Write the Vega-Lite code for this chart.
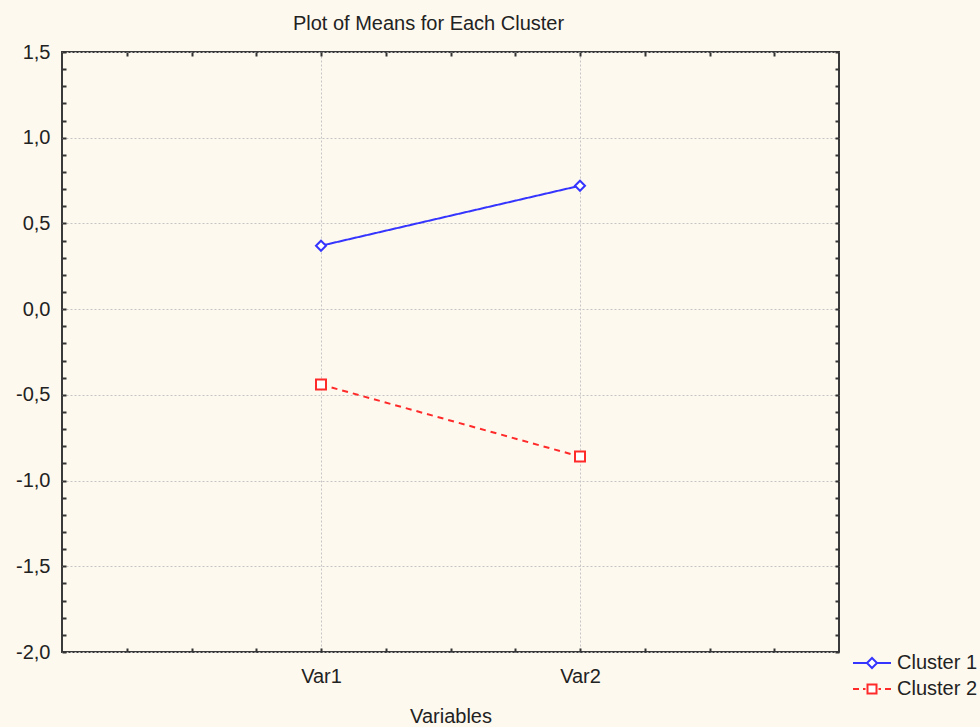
{
  "$schema": "https://vega.github.io/schema/vega-lite/v6.json",
  "autosize": {"type": "none"},
  "padding": {"left": 62, "top": 52, "right": 141, "bottom": 75},
  "width": 777,
  "height": 600,
  "background": "#fef9ee",
  "title": {
    "text": "Plot of Means for Each Cluster",
    "font": "Liberation Sans",
    "fontSize": 20,
    "fontWeight": "normal",
    "color": "#222222",
    "anchor": "middle",
    "dx": -22,
    "baseline": "alphabetic",
    "offset": -8
  },
  "data": {
    "values": [
      {"Variable": "Var1", "Cluster": "Cluster 1", "Mean": 0.37},
      {"Variable": "Var2", "Cluster": "Cluster 1", "Mean": 0.72},
      {"Variable": "Var1", "Cluster": "Cluster 2", "Mean": -0.44},
      {"Variable": "Var2", "Cluster": "Cluster 2", "Mean": -0.86}
    ]
  },
  "transform": [
    {"calculate": "indexof(['Var1','Var2'], datum.Variable) + 1", "as": "VarIndex"}
  ],
  "layer": [
    {
      "mark": {"type": "line", "strokeWidth": 2},
      "encoding": {
        "x": {
          "field": "VarIndex",
          "type": "quantitative",
          "scale": {"domain": [0, 3], "nice": false, "zero": false},
          "axis": {
            "orient": "bottom",
            "values": [0.25, 0.5, 0.75, 1, 1.25, 1.5, 1.75, 2, 2.25, 2.5, 2.75],
            "labelExpr": "datum.value == 1 ? 'Var1' : datum.value == 2 ? 'Var2' : ''",
            "labelOverlap": false,
            "labelFlush": false,
            "labelBound": false,
            "labelFont": "Liberation Sans",
            "labelFontSize": 20,
            "labelColor": "#222222",
            "labelPadding": 18,
            "grid": true,
            "gridColor": "#c4c4c4",
            "gridDash": [2, 2],
            "gridWidth": 1,
            "gridOpacity": {"condition": {"test": "datum.value == 1 || datum.value == 2", "value": 1}, "value": 0},
            "domain": false,
            "tickSize": -4,
            "tickWidth": 2,
            "tickColor": "#333333",
            "title": "Variables",
            "titleFont": "Liberation Sans",
            "titleFontSize": 20,
            "titleFontWeight": "normal",
            "titleColor": "#222222",
            "titlePadding": 20
          }
        },
        "y": {
          "field": "Mean",
          "type": "quantitative",
          "scale": {"domain": [-2, 1.5], "nice": false, "zero": false},
          "axis": {
            "orient": "left",
            "values": [-2, -1.9, -1.8, -1.7, -1.6, -1.5, -1.4, -1.3, -1.2, -1.1, -1, -0.9, -0.8, -0.7, -0.6, -0.5, -0.4, -0.3, -0.2, -0.1, 0, 0.1, 0.2, 0.3, 0.4, 0.5, 0.6, 0.7, 0.8, 0.9, 1, 1.1, 1.2, 1.3, 1.4, 1.5],
            "labelExpr": "abs(datum.value*2 - round(datum.value*2)) < 0.001 ? replace(replace(format(datum.value, '.1f'), '.', ','), '\u2212', '-') : ''",
            "labelOverlap": false,
            "labelFlush": false,
            "labelBound": false,
            "labelFont": "Liberation Sans",
            "labelFontSize": 20,
            "labelColor": "#222222",
            "labelPadding": 16,
            "grid": true,
            "gridColor": "#c4c4c4",
            "gridDash": [2, 2],
            "gridWidth": 1,
            "gridOpacity": {"condition": {"test": "abs(datum.value*2 - round(datum.value*2)) < 0.001", "value": 1}, "value": 0},
            "domain": false,
            "tickSize": -4,
            "tickWidth": 2,
            "tickColor": "#333333",
            "title": null
          }
        },
        "color": {
          "field": "Cluster",
          "type": "nominal",
          "scale": {"domain": ["Cluster 1", "Cluster 2"], "range": ["#3535ff", "#ff2a2a"]},
          "legend": null
        },
        "strokeDash": {
          "field": "Cluster",
          "type": "nominal",
          "scale": {"domain": ["Cluster 1", "Cluster 2"], "range": [[1, 0], [6, 5]]},
          "legend": null
        }
      }
    },
    {
      "mark": {"type": "point", "filled": true, "fill": "white", "strokeWidth": 2, "size": 100, "opacity": 1},
      "encoding": {
        "x": {
          "field": "VarIndex",
          "type": "quantitative",
          "axis": {
            "orient": "top",
            "values": [0.25, 0.5, 0.75, 1, 1.25, 1.5, 1.75, 2, 2.25, 2.5, 2.75],
            "labels": false,
            "grid": false,
            "domain": false,
            "tickSize": -4,
            "tickWidth": 2,
            "tickColor": "#333333",
            "title": null
          }
        },
        "y": {
          "field": "Mean",
          "type": "quantitative",
          "axis": {
            "orient": "right",
            "values": [-2, -1.9, -1.8, -1.7, -1.6, -1.5, -1.4, -1.3, -1.2, -1.1, -1, -0.9, -0.8, -0.7, -0.6, -0.5, -0.4, -0.3, -0.2, -0.1, 0, 0.1, 0.2, 0.3, 0.4, 0.5, 0.6, 0.7, 0.8, 0.9, 1, 1.1, 1.2, 1.3, 1.4, 1.5],
            "labels": false,
            "grid": false,
            "domain": false,
            "tickSize": -4,
            "tickWidth": 2,
            "tickColor": "#333333",
            "title": null
          }
        },
        "stroke": {
          "field": "Cluster",
          "type": "nominal",
          "scale": {"domain": ["Cluster 1", "Cluster 2"], "range": ["#3535ff", "#ff2a2a"]},
          "legend": null
        },
        "shape": {
          "field": "Cluster",
          "type": "nominal",
          "scale": {"domain": ["Cluster 1", "Cluster 2"], "range": ["diamond", "square"]},
          "legend": null
        }
      }
    },
    {
      "transform": [{"filter": "false"}],
      "mark": {"type": "point", "filled": true, "fill": "white", "strokeWidth": 2, "size": 400, "opacity": 1},
      "encoding": {
        "stroke": {
          "field": "Cluster",
          "type": "nominal",
          "scale": {"domain": ["Cluster 1", "Cluster 2"], "range": ["#3535ff", "#ff2a2a"]},
          "legend": {
            "orient": "none",
            "legendX": 799,
            "legendY": 600,
            "title": null,
            "padding": 0,
            "symbolSize": 400,
            "symbolStrokeWidth": 2,
            "symbolFillColor": "white",
            "labelOffset": 14,
            "rowPadding": 5,
            "labelFont": "Liberation Sans",
            "labelFontSize": 20,
            "labelColor": "#222222"
          }
        },
        "shape": {
          "field": "Cluster",
          "type": "nominal",
          "scale": {"domain": ["Cluster 1", "Cluster 2"], "range": ["M-1.9,0H-0.5M0.5,0H1.9M-0.5,0L0,-0.5L0.5,0L0,0.5Z", "M-1.9,0H-1.3M-0.9,0H-0.65M-0.45,-0.45H0.45V0.45H-0.45ZM0.65,0H0.9M1.3,0H1.9"]},
          "legend": {
            "orient": "none",
            "legendX": 799,
            "legendY": 600,
            "title": null,
            "padding": 0,
            "symbolSize": 400,
            "symbolStrokeWidth": 2,
            "symbolFillColor": "white",
            "labelOffset": 14,
            "rowPadding": 5,
            "labelFont": "Liberation Sans",
            "labelFontSize": 20,
            "labelColor": "#222222"
          }
        }
      }
    }
  ],
  "resolve": {"axis": {"x": "independent", "y": "independent"}, "scale": {"shape": "independent", "stroke": "independent"}},
  "config": {
    "view": {"stroke": "#3a3a3a", "strokeWidth": 2, "fill": "white"}
  }
}
